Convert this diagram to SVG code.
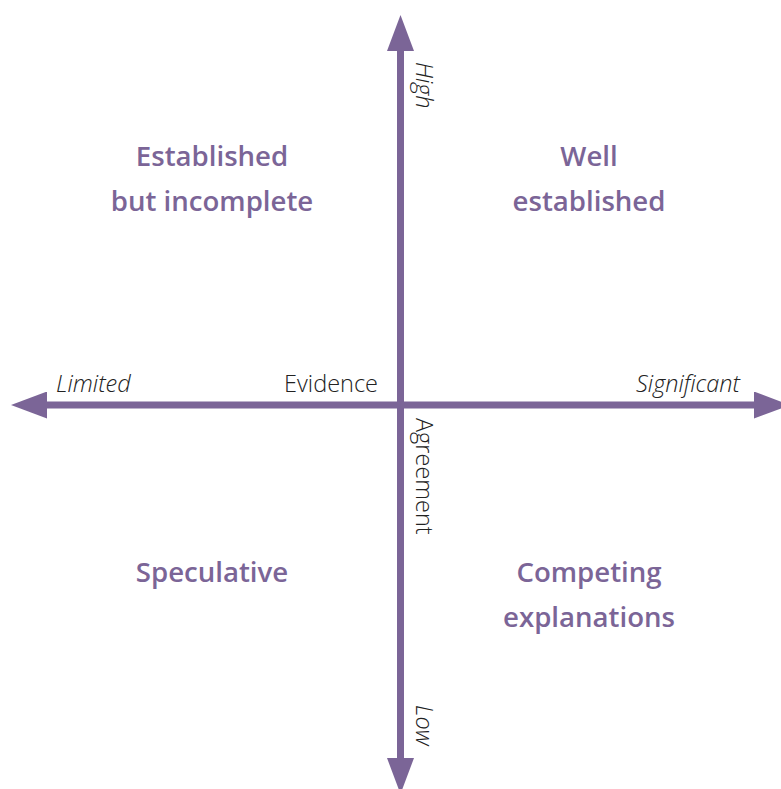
<svg xmlns="http://www.w3.org/2000/svg" width="781" height="789" viewBox="0 0 781 789">
<style>
.ax{stroke:#7b6597;stroke-width:7;fill:none;marker-end:url(#ah)}
.q{font-family:"Open Sans","Liberation Sans",sans-serif;font-weight:600;font-size:27.6px;fill:#7b6597;text-anchor:middle}
.s{font-family:"Open Sans","Liberation Sans",sans-serif;font-weight:300;font-size:23.5px;fill:#222}
.i{font-style:italic}
</style>
<defs>
<marker id="ah" markerUnits="userSpaceOnUse" viewBox="0 0 36 27" refX="0" refY="13.5" markerWidth="36" markerHeight="27" orient="auto">
<path d="M0,0 L36,13.5 L0,27 Z" fill="#7b6597"/>
</marker>
</defs>
<g id="connectors">
<line class="ax" x1="400.5" y1="405" x2="400.5" y2="51"/>
<line class="ax" x1="400.5" y1="405" x2="400.5" y2="758"/>
<line class="ax" x1="400.5" y1="405" x2="47" y2="405"/>
<line class="ax" x1="400.5" y1="405" x2="754" y2="405"/>
</g>
<g id="axis-labels">
<text class="s i" transform="translate(416,62) rotate(90)">High</text>
<text class="s i" transform="translate(416,705) rotate(90)">Low</text>
<text class="s" transform="translate(416,418) rotate(90)">Agreement</text>
<text class="s i" x="56" y="392">Limited</text>
<text class="s" x="378" y="392" text-anchor="end">Evidence</text>
<text class="s i" x="740" y="392" text-anchor="end">Significant</text>
</g>
<g id="q-established-incomplete">
<text class="q" x="212" y="166">Established</text>
<text class="q" x="212" y="211">but incomplete</text>
</g>
<g id="q-well-established">
<text class="q" x="589" y="166">Well</text>
<text class="q" x="589" y="211">established</text>
</g>
<g id="q-speculative">
<text class="q" x="212" y="582">Speculative</text>
</g>
<g id="q-competing">
<text class="q" x="589" y="582">Competing</text>
<text class="q" x="589" y="627">explanations</text>
</g>
</svg>
